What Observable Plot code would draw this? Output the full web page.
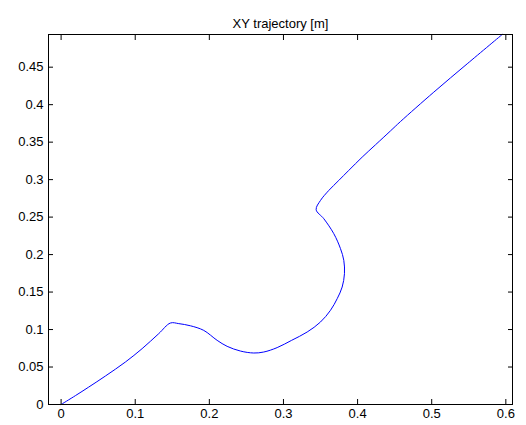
<!DOCTYPE html>
<html>
<head>
<meta charset="utf-8">
<script src="https://cdn.jsdelivr.net/npm/d3@7"></script>
<script src="https://cdn.jsdelivr.net/npm/@observablehq/plot@0.6"></script>
<style>
  html, body { margin: 0; padding: 0; background: #fff; }
</style>
</head>
<body>
<div id="chart"></div>
<script>
const title = "XY trajectory [m]";
const xs = [0, 0.0193, 0.0372, 0.0598, 0.0868, 0.1093, 0.1317, 0.1475, 0.1587, 0.1745, 0.1924, 0.2105, 0.2240, 0.2420, 0.2599, 0.2734, 0.2915, 0.3110, 0.3320, 0.3499, 0.3634, 0.3725, 0.3792, 0.3823, 0.3814, 0.3769, 0.3679, 0.3544, 0.3441, 0.3500, 0.3612, 0.3746, 0.3881, 0.4062, 0.4242, 0.4444, 0.4579, 0.5028, 0.5479, 0.5951];
const ys = [0, 0.0118, 0.0232, 0.0380, 0.0567, 0.0745, 0.0945, 0.1087, 0.1079, 0.1050, 0.0989, 0.0856, 0.0776, 0.0713, 0.0687, 0.0700, 0.0759, 0.0856, 0.0967, 0.1100, 0.1256, 0.1412, 0.1567, 0.1745, 0.1923, 0.2080, 0.2279, 0.2479, 0.2599, 0.2723, 0.2856, 0.2989, 0.3123, 0.3300, 0.3465, 0.3650, 0.3775, 0.4167, 0.4545, 0.4936];
const xTicks = [0, 0.1, 0.2, 0.3, 0.4, 0.5, 0.6];
const yTicks = [0, 0.05, 0.1, 0.15, 0.2, 0.25, 0.3, 0.35, 0.4, 0.45];

const data = xs.map((x, i) => ({x, y: ys[i]}));
const fmt = d => d === 0 ? "0" : String(+d.toFixed(2));

const chart = Plot.plot({
  width: 526,
  height: 425,
  marginLeft: 48,
  marginRight: 14,
  marginTop: 34,
  marginBottom: 21,
  style: {fontFamily: "'Liberation Sans', Arial, sans-serif", fontSize: "13px", color: "#000", background: "#fff"},
  x: {domain: [-0.017, 0.609]},
  y: {domain: [0, 0.4936]},
  marks: [
    Plot.line(data, {x: "x", y: "y", stroke: "#0000ff", strokeWidth: 1, curve: "catmull-rom"}),
    Plot.frame({stroke: "#000"}),
    Plot.axisX(xTicks, {anchor: "bottom", tickSize: -5, tickPadding: 9, tickFormat: fmt, label: null, stroke: "#000"}),
    Plot.axisX(xTicks, {anchor: "top", tickSize: -5, tickFormat: () => "", label: null, stroke: "#000"}),
    Plot.axisY(yTicks, {anchor: "left", tickSize: -5, tickPadding: 10, tickFormat: fmt, label: null, stroke: "#000"}),
    Plot.axisY(yTicks, {anchor: "right", tickSize: -5, tickFormat: () => "", label: null, stroke: "#000"}),
    Plot.text([title], {frameAnchor: "top", dy: -16, fontSize: 13, fill: "#000"})
  ]
});
document.getElementById("chart").appendChild(chart);
</script>
</body>
</html>
